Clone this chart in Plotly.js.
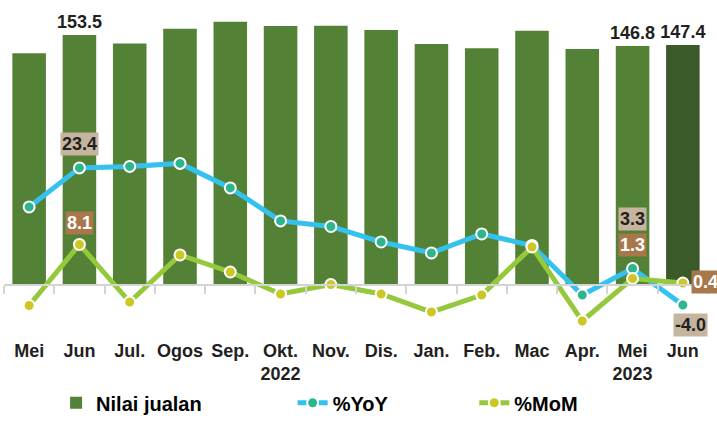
<!DOCTYPE html>
<html>
<head>
<meta charset="utf-8">
<script src="https://cdn.plot.ly/plotly-3.0.1.min.js"></script>
<style>
  body { margin: 0; background: #fff; }
  #myDiv { width: 717px; height: 424px; }
</style>
</head>
<body>
<div id="myDiv"></div>
<script>
// Datos del gráfico
let months = ['Mei 2022', 'Jun 2022', 'Jul 2022', 'Ogos 2022', 'Sep 2022', 'Okt 2022', 'Nov 2022',
              'Dis 2022', 'Jan 2023', 'Feb 2023', 'Mac 2023', 'Apr 2023', 'Mei 2023', 'Jun 2023'];
let tickLabels = ['Mei', 'Jun', 'Jul.', 'Ogos', 'Sep.', 'Okt.<br>2022', 'Nov.', 'Dis.',
                  'Jan.', 'Feb.', 'Mac', 'Apr.', 'Mei<br>2023', 'Jun'];
let sales = [142.3, 153.5, 148.4, 157.4, 161.7, 159.1, 159.3, 156.6, 148.0, 145.4, 156.2, 145.0, 146.8, 147.4];
let yoy = [15.6, 23.4, 23.7, 24.3, 19.4, 12.8, 11.7, 8.6, 6.4, 10.2, 7.9, -2.0, 3.3, -4.0];
let mom = [-4.1, 8.1, -3.4, 6.0, 2.6, -1.8, 0.1, -1.8, -5.4, -2.0, 7.6, -7.2, 1.3, 0.4];

// Qué puntos llevan etiqueta
let salesLabelIdx = [1, 12, 13];

let font = 'Liberation Sans, Arial, sans-serif';
let dark = '#231f20';

function plot_chart() {
    let n = months.length;

    let barColors = months.map((_, i) => i === n - 1 ? '#3b5a2a' : '#538135');
    let barText = sales.map((v, i) => salesLabelIdx.includes(i) ? v.toFixed(1) : '');

    let trace1 = {
        x: months,
        y: sales,
        type: 'bar',
        name: 'Nilai jualan',
        marker: { color: barColors },
        text: barText,
        textposition: 'outside',
        constraintext: 'none',
        textfont: { family: font, size: 18, color: dark, weight: 'bold' },
        cliponaxis: false,
        hoverinfo: 'none',
        legend: 'legend'
    };

    let trace2 = {
        x: months,
        y: yoy,
        yaxis: 'y2',
        type: 'scatter',
        mode: 'lines+markers',
        name: '%YoY',
        line: { color: '#33c1ee', width: 5 },
        marker: { color: '#2db68d', size: 11, line: { color: '#ffffff', width: 2 } },
        cliponaxis: false,
        hoverinfo: 'none',
        legend: 'legend2'
    };

    let trace3 = {
        x: months,
        y: mom,
        yaxis: 'y2',
        type: 'scatter',
        mode: 'lines+markers',
        name: '%MoM',
        line: { color: '#96c83c', width: 5 },
        marker: { color: '#cbc823', size: 11, line: { color: '#ffffff', width: 2 } },
        cliponaxis: false,
        hoverinfo: 'none',
        legend: 'legend3'
    };

    // Etiquetas con caja para %YoY y %MoM
    let beige = '#c6b59e';
    let brown = '#a8784c';
    function boxLabel(i, arr, bg, color, opts) {
        return Object.assign({
            x: months[i],
            y: arr[i],
            xref: 'x',
            yref: 'y2',
            text: '<b>' + arr[i].toFixed(1) + '</b>',
            showarrow: false,
            bgcolor: bg,
            borderpad: 1,
            font: { family: font, size: 18, color: color },
            xanchor: 'center',
            yanchor: 'middle'
        }, opts);
    }

    let annotations = [
        boxLabel(1, yoy, beige, dark, { yshift: 24 }),
        boxLabel(1, mom, brown, '#ffffff', { yshift: 21 }),
        boxLabel(12, yoy, beige, dark, { yshift: 49 }),
        boxLabel(12, mom, brown, '#ffffff', { yshift: 33 }),
        boxLabel(13, mom, brown, '#ffffff', { xanchor: 'left', xshift: 8, yshift: 1 }),
        boxLabel(13, yoy, beige, dark, { xanchor: 'left', xshift: -10, yshift: -20 })
    ];

    let legendFont = { family: font, size: 20, color: '#000000', weight: 'bold' };
    function legendAt(x) {
        return { x: x, y: -0.19, xanchor: 'left', yanchor: 'middle', orientation: 'h',
                 font: legendFont, bgcolor: 'rgba(0,0,0,0)' };
    }

    let layout = {
        width: 717,
        height: 424,
        margin: { l: 4, r: 9, t: 10, b: 84, autoexpand: false },
        paper_bgcolor: '#ffffff',
        plot_bgcolor: '#ffffff',
        bargap: 0.333,
        xaxis: {
            type: 'category',
            range: [-0.5, n - 0.5],
            anchor: 'free',
            position: 55 / 330,  // el eje x pasa por el cero
            showline: true,
            linecolor: '#d4d4d4',
            linewidth: 2,
            ticks: 'outside',
            tickson: 'boundaries',
            ticklen: 8,
            tickwidth: 2,
            tickcolor: '#d4d4d4',
            tickmode: 'array',
            tickvals: months,
            ticktext: tickLabels,
            tickangle: 0,
            ticklabelstandoff: 49,
            tickfont: { family: font, size: 18, color: dark, weight: 'bold' },
            showgrid: false,
            zeroline: false,
            fixedrange: true
        },
        yaxis: {
            range: [-33.78, 168.9],
            visible: false,
            showgrid: false,
            zeroline: false,
            fixedrange: true
        },
        yaxis2: {
            range: [-10.99, 54.95],
            overlaying: 'y',
            visible: false,
            showgrid: false,
            zeroline: false,
            fixedrange: true
        },
        showlegend: true,
        legend: legendAt(0.074),
        legend2: legendAt(0.41),
        legend3: legendAt(0.668),
        annotations: annotations
    };

    Plotly.newPlot('myDiv', [trace1, trace2, trace3], layout, { displayModeBar: false, staticPlot: true });
}

document.addEventListener('DOMContentLoaded', plot_chart);
</script>
</body>
</html>
